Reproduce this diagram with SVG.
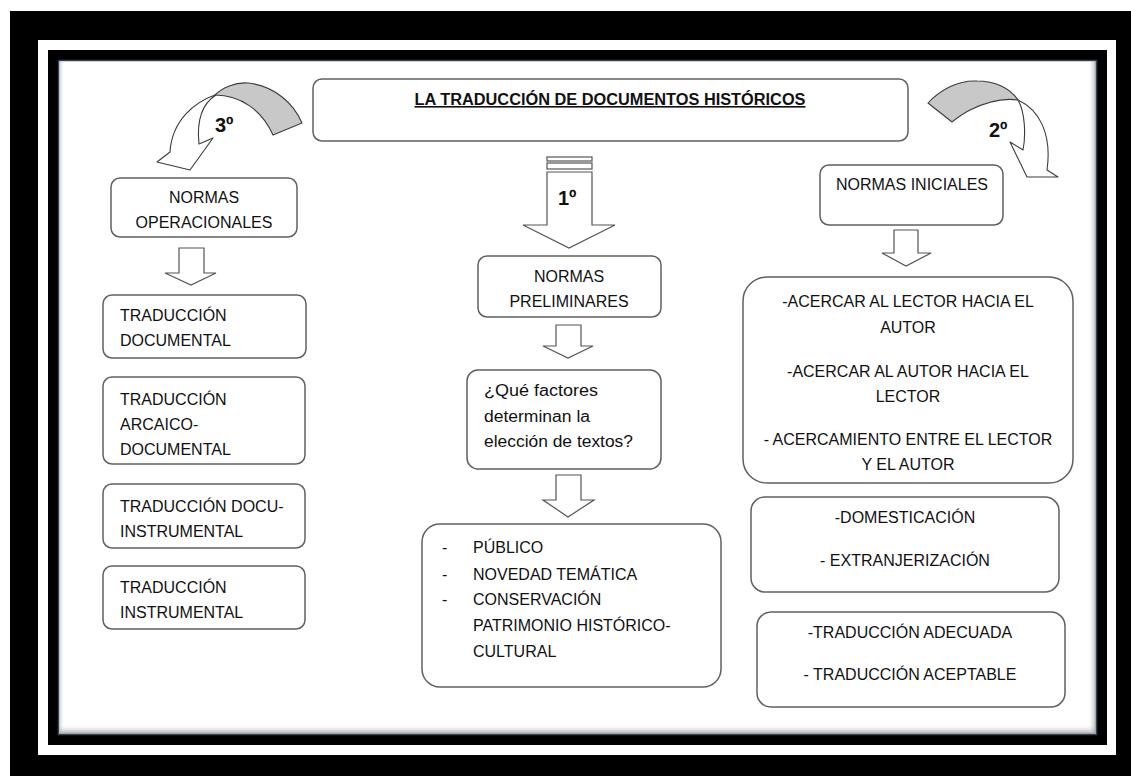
<svg xmlns="http://www.w3.org/2000/svg" width="1131" height="776" viewBox="0 0 1131 776">
  <defs>
    <style>
      .box { fill: #ffffff; stroke: #606060; stroke-width: 1.5; }
      .blk { fill: #ffffff; stroke: #555555; stroke-width: 1.2; stroke-linejoin: miter; }
      .curve { stroke: #3c3c3c; stroke-width: 1.1; stroke-linejoin: round; }
      .t { font-family: "Liberation Sans", Arial, sans-serif; font-size: 16px; fill: #111111; }
      .c { text-anchor: middle; }
      .num { font-family: "Liberation Sans", Arial, sans-serif; font-size: 20px; font-weight: bold; fill: #111111; }
    </style>
    <linearGradient id="shadeBottom" x1="0" y1="0" x2="0" y2="1">
      <stop offset="0" stop-color="#ffffff" stop-opacity="0"/>
      <stop offset="1" stop-color="#8a8a8a" stop-opacity="0.8"/>
    </linearGradient>
    <linearGradient id="shadeRight" x1="0" y1="0" x2="1" y2="0">
      <stop offset="0" stop-color="#ffffff" stop-opacity="0"/>
      <stop offset="1" stop-color="#8a8a8a" stop-opacity="0.7"/>
    </linearGradient>
    <linearGradient id="shadeLeft" x1="1" y1="0" x2="0" y2="0">
      <stop offset="0" stop-color="#ffffff" stop-opacity="0"/>
      <stop offset="1" stop-color="#9a9a9a" stop-opacity="0.5"/>
    </linearGradient>
  </defs>

  <!-- page frame -->
  <g id="frame">
    <rect x="0" y="0" width="1131" height="776" fill="#ffffff"/>
    <rect x="10" y="11" width="1121" height="765" fill="#000000"/>
    <rect x="38" y="40" width="1078" height="715" fill="#ffffff"/>
    <rect x="48" y="50" width="1059" height="695" fill="#000000"/>
    <rect x="58.5" y="60.5" width="1038" height="674" fill="#ffffff" stroke="#34445a" stroke-width="1.5"/>
    <rect x="59.5" y="724" width="1036" height="10" fill="url(#shadeBottom)"/>
    <rect x="1088" y="61" width="8" height="672" fill="url(#shadeRight)"/>
    <rect x="59.5" y="61" width="5" height="672" fill="url(#shadeLeft)"/>
  </g>

  <!-- title -->
  <g id="title">
    <rect class="box" x="313" y="79" width="595" height="62" rx="9" stroke="#4a4a4a"/>
    <text class="t c" x="610" y="105" font-weight="bold" text-decoration="underline" textLength="391" lengthAdjust="spacingAndGlyphs">LA TRADUCCIÓN DE DOCUMENTOS HISTÓRICOS</text>
  </g>

  <!-- connectors: block arrows -->
  <g id="connectors">
    <!-- 3º curved arrow -->
    <path class="curve" fill="#c8c8c8" d="M302,123 C294,104 275,86 248,83 C235,82 222,88 215,95 C240,95 262,110 273,135 Z"/>
    <path class="curve" fill="#ffffff" d="M215,95 C195,102 172,120 170,152 L157,162 L190,170 L213,138 L199,144 C197,125 200,105 216,95 Z"/>
    <!-- 2º curved arrow -->
    <path class="curve" fill="#c8c8c8" d="M928,103 C940,90 958,80 977,81 C995,81 1010,88 1018,100 C1005,98 990,100 970,110 C962,114 957,118 952,122 Z"/>
    <path class="curve" fill="#ffffff" d="M1018,100 C1040,110 1052,135 1047,170 L1058,177 L1027,177 L1010,142 L1023,150 C1026,135 1025,112 1018,100 Z"/>
    <!-- 1º straight arrow -->
    <rect class="blk" x="547" y="157" width="45" height="4"/>
    <rect class="blk" x="547" y="163" width="45" height="6"/>
    <path class="blk" d="M547,172 H592 V225 H615 L569,248 L523,225 H547 Z"/>
    <!-- small arrows -->
    <path class="blk" d="M179,248 H204 V273 H216 L191,285 L165,273 H179 Z"/>
    <path class="blk" d="M556,325 H581 V346 H593 L568,358 L543,346 H556 Z"/>
    <path class="blk" d="M556,475 H581 V500 H594 L568,517 L543,500 H556 Z"/>
    <path class="blk" d="M894,230 H918 V253 H931 L906,266 L882,253 H894 Z"/>
  </g>

  <!-- step numbers -->
  <text class="num" x="215" y="132">3º</text>
  <text class="num" x="989" y="137">2º</text>
  <text class="num" x="558" y="205">1º</text>

  <!-- left column -->
  <g id="normas-operacionales">
    <rect class="box" x="111" y="178" width="186" height="59" rx="9"/>
    <text class="t c" x="204" y="203">NORMAS</text>
    <text class="t c" x="204" y="228">OPERACIONALES</text>
  </g>
  <g id="traduccion-documental">
    <rect class="box" x="103" y="295" width="203" height="63" rx="9"/>
    <text class="t" x="120" y="321">TRADUCCIÓN</text>
    <text class="t" x="120" y="346">DOCUMENTAL</text>
  </g>
  <g id="traduccion-arcaico">
    <rect class="box" x="103" y="377" width="202" height="87" rx="9"/>
    <text class="t" x="120" y="405">TRADUCCIÓN</text>
    <text class="t" x="120" y="430">ARCAICO-</text>
    <text class="t" x="120" y="455">DOCUMENTAL</text>
  </g>
  <g id="traduccion-docu-instrumental">
    <rect class="box" x="103" y="484" width="202" height="64" rx="9"/>
    <text class="t" x="120" y="512">TRADUCCIÓN DOCU-</text>
    <text class="t" x="120" y="537">INSTRUMENTAL</text>
  </g>
  <g id="traduccion-instrumental">
    <rect class="box" x="103" y="566" width="202" height="63" rx="9"/>
    <text class="t" x="120" y="593">TRADUCCIÓN</text>
    <text class="t" x="120" y="618">INSTRUMENTAL</text>
  </g>

  <!-- centre column -->
  <g id="normas-preliminares">
    <rect class="box" x="478" y="256" width="183" height="61" rx="9"/>
    <text class="t c" x="569" y="282">NORMAS</text>
    <text class="t c" x="569" y="307">PRELIMINARES</text>
  </g>
  <g id="pregunta">
    <rect class="box" x="467" y="370" width="194" height="99" rx="11"/>
    <text class="t" x="484" y="396" textLength="114" lengthAdjust="spacingAndGlyphs">¿Qué factores</text>
    <text class="t" x="484" y="422" textLength="106" lengthAdjust="spacingAndGlyphs">determinan la</text>
    <text class="t" x="484" y="447" textLength="149" lengthAdjust="spacingAndGlyphs">elección de textos?</text>
  </g>
  <g id="factores">
    <rect class="box" x="422" y="524" width="299" height="163" rx="18"/>
    <text class="t" x="442" y="553">-</text>
    <text class="t" x="473" y="553">PÚBLICO</text>
    <text class="t" x="442" y="580">-</text>
    <text class="t" x="473" y="580">NOVEDAD TEMÁTICA</text>
    <text class="t" x="442" y="605">-</text>
    <text class="t" x="473" y="605">CONSERVACIÓN</text>
    <text class="t" x="473" y="631">PATRIMONIO HISTÓRICO-</text>
    <text class="t" x="473" y="657">CULTURAL</text>
  </g>

  <!-- right column -->
  <g id="normas-iniciales">
    <rect class="box" x="820" y="165" width="183" height="60" rx="9"/>
    <text class="t c" x="912" y="190">NORMAS INICIALES</text>
  </g>
  <g id="acercar">
    <rect class="box" x="743" y="277" width="330" height="206" rx="24"/>
    <text class="t c" x="908" y="307">-ACERCAR AL LECTOR HACIA EL</text>
    <text class="t c" x="908" y="333">AUTOR</text>
    <text class="t c" x="908" y="377">-ACERCAR AL AUTOR HACIA EL</text>
    <text class="t c" x="908" y="402">LECTOR</text>
    <text class="t c" x="908" y="445">- ACERCAMIENTO ENTRE EL LECTOR</text>
    <text class="t c" x="908" y="470">Y EL AUTOR</text>
  </g>
  <g id="domesticacion">
    <rect class="box" x="751" y="497" width="308" height="95" rx="14"/>
    <text class="t c" x="905" y="523">-DOMESTICACIÓN</text>
    <text class="t c" x="905" y="566">- EXTRANJERIZACIÓN</text>
  </g>
  <g id="adecuada">
    <rect class="box" x="757" y="612" width="308" height="95" rx="14"/>
    <text class="t c" x="910" y="638">-TRADUCCIÓN ADECUADA</text>
    <text class="t c" x="910" y="680">- TRADUCCIÓN ACEPTABLE</text>
  </g>
</svg>
